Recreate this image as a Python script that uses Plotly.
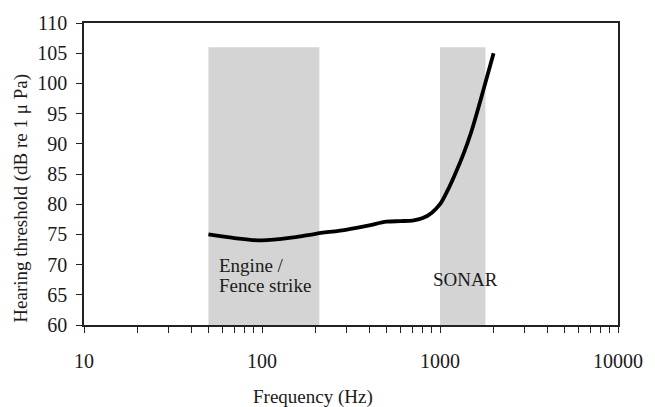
import plotly.graph_objects as go

# Data
freq_hz = [50, 70, 100, 150, 200, 300, 400, 500, 600, 700, 800, 900, 1000, 1100, 1200, 1350, 1500, 1700, 2000]
threshold_db = [75.0, 74.4, 74.0, 74.5, 75.1, 75.8, 76.5, 77.1, 77.2, 77.3, 77.7, 78.6, 80.0, 82.2, 84.6, 88.2, 92.0, 97.5, 105.0]

band_names = ["Engine / Fence strike", "SONAR"]
band_lo = [50, 1000]
band_hi = [210, 1800]
band_top = 106
y_min, y_max = 60, 110

x_tickvals = [10, 100, 1000, 10000]
x_ticktext = ["10", "100", "1000", "10000"]
y_tickvals = list(range(60, 111, 5))

FONT = "Liberation Serif, Times New Roman, serif"
TXT = "#1a1a1a"

fig = go.Figure()

for lo, hi in zip(band_lo, band_hi):
    fig.add_trace(go.Scatter(
        x=[lo, lo, hi, hi, lo], y=[y_min, band_top, band_top, y_min, y_min],
        fill="toself", fillcolor="#d4d4d4", line=dict(width=0),
        mode="lines", hoverinfo="skip", showlegend=False))

fig.add_trace(go.Scatter(
    x=freq_hz, y=threshold_db, mode="lines",
    line=dict(color="#000000", width=3.8, shape="spline", smoothing=0.9),
    showlegend=False))

fig.update_xaxes(
    type="log", range=[1, 4], tickvals=x_tickvals, ticktext=x_ticktext,
    showgrid=False, zeroline=False, showline=True, linecolor="#222", linewidth=1.5,
    mirror=True, ticks="outside", ticklen=6, tickwidth=1.2, tickcolor="#222",
    minor=dict(ticks="outside", ticklen=6, tickwidth=1.2, tickcolor="#222", showgrid=False,
               dtick="D1"),
    tickfont=dict(family=FONT, size=20, color=TXT), ticklabelstandoff=11)

fig.update_yaxes(
    range=[y_min, y_max], tickvals=y_tickvals,
    showgrid=False, zeroline=False, showline=True, linecolor="#222", linewidth=1.5,
    mirror=True, ticks="outside", ticklen=6, tickwidth=1.2, tickcolor="#222",
    tickfont=dict(family=FONT, size=20, color=TXT), ticklabelstandoff=5)

ann_font = dict(family=FONT, size=19, color=TXT)
fig.add_annotation(x=1.748, y=69.9, xref="x", yref="y", text="Engine /", showarrow=False,
                   xanchor="left", yanchor="middle", font=ann_font)
fig.add_annotation(x=1.748, y=66.6, xref="x", yref="y", text="Fence strike", showarrow=False,
                   xanchor="left", yanchor="middle", font=ann_font)
fig.add_annotation(x=3.144, y=67.5, xref="x", yref="y", text="SONAR", showarrow=False,
                   xanchor="center", yanchor="middle", font=ann_font)

fig.add_annotation(x=0.428, y=-0.237, xref="paper", yref="paper", text="Frequency (Hz)",
                   showarrow=False, xanchor="center", yanchor="middle", font=ann_font)
fig.add_annotation(x=-0.1176, y=0.419, xref="paper", yref="paper",
                   text="Hearing threshold (dB re 1 μ Pa)", textangle=-90,
                   showarrow=False, xanchor="center", yanchor="middle", font=ann_font)

fig.update_layout(
    width=655, height=407, margin=dict(l=84, r=27, t=21, b=82),
    plot_bgcolor="white", paper_bgcolor="white")

fig.write_html("out.html")
